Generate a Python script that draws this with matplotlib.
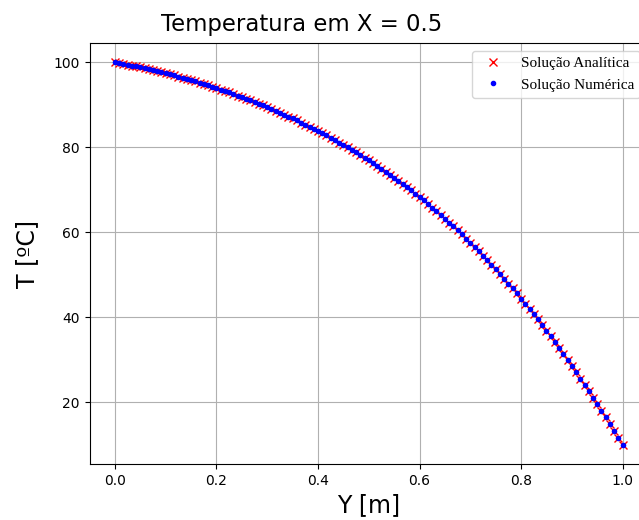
import numpy as np
import matplotlib
matplotlib.use("Agg")
import matplotlib.pyplot as plt

# Y positions (uniform grid, 121 nodes)
Y = np.linspace(0.0, 1.0, 121)

# Temperatures (ºC)
T_analitica = [
    100.00, 99.80, 99.60, 99.40, 99.20, 98.98, 98.77, 98.55, 98.33, 98.10, 97.87, 97.64,
    97.40, 97.14, 96.87, 96.59, 96.32, 96.03, 95.74, 95.45, 95.15, 94.85, 94.54, 94.22,
    93.90, 93.56, 93.22, 92.86, 92.51, 92.14, 91.77, 91.39, 91.01, 90.62, 90.22, 89.81,
    89.40, 88.98, 88.55, 88.11, 87.67, 87.21, 86.75, 86.28, 85.80, 85.32, 84.82, 84.31,
    83.80, 83.28, 82.75, 82.21, 81.66, 81.10, 80.54, 79.96, 79.37, 78.77, 78.16, 77.53,
    76.90, 76.25, 75.59, 74.92, 74.24, 73.54, 72.83, 72.11, 71.37, 70.63, 69.87, 69.09,
    68.30, 67.49, 66.66, 65.81, 64.96, 64.08, 63.19, 62.28, 61.36, 60.42, 59.47, 58.49,
    57.50, 56.51, 55.51, 54.48, 53.44, 52.38, 51.30, 50.20, 49.08, 47.94, 46.78, 45.60,
    44.40, 43.20, 41.98, 40.74, 39.48, 38.19, 36.88, 35.54, 34.18, 32.80, 31.39, 29.96,
    28.50, 27.06, 25.60, 24.13, 22.64, 21.12, 19.59, 18.04, 16.47, 14.89, 13.28, 11.65,
    10.00,
]
T_numerica = [
    100.00, 99.80, 99.60, 99.40, 99.20, 98.98, 98.77, 98.55, 98.33, 98.10, 97.87, 97.64,
    97.40, 97.14, 96.87, 96.59, 96.32, 96.03, 95.74, 95.45, 95.15, 94.85, 94.54, 94.22,
    93.90, 93.56, 93.22, 92.86, 92.51, 92.14, 91.77, 91.39, 91.01, 90.62, 90.22, 89.81,
    89.40, 88.98, 88.55, 88.11, 87.67, 87.21, 86.75, 86.28, 85.80, 85.32, 84.82, 84.31,
    83.80, 83.28, 82.75, 82.21, 81.66, 81.10, 80.54, 79.96, 79.37, 78.77, 78.16, 77.53,
    76.90, 76.25, 75.59, 74.92, 74.24, 73.54, 72.83, 72.11, 71.37, 70.63, 69.87, 69.09,
    68.30, 67.49, 66.66, 65.81, 64.96, 64.08, 63.19, 62.28, 61.36, 60.42, 59.47, 58.49,
    57.50, 56.51, 55.51, 54.48, 53.44, 52.38, 51.30, 50.20, 49.08, 47.94, 46.78, 45.60,
    44.40, 43.20, 41.98, 40.74, 39.48, 38.19, 36.88, 35.54, 34.18, 32.80, 31.39, 29.96,
    28.50, 27.06, 25.60, 24.13, 22.64, 21.12, 19.59, 18.04, 16.47, 14.89, 13.28, 11.65,
    10.00,
]

title = "Temperatura em X = 0.5"
xlabel = "Y [m]"
ylabel = "T [ºC]"
labels = ["Solução Analítica", "Solução Numérica"]

W, H = 639, 520
fig = plt.figure(figsize=(W / 100, H / 100), dpi=100)
ax = fig.add_axes([89.5 / W, 56 / H, 558.5 / W, 421 / H])

ax.plot(Y, T_analitica, "rx", label=labels[0])
ax.plot(Y, T_numerica, "b.", label=labels[1])

ax.grid(True)
ax.set_xlabel(xlabel, fontsize=17)
ax.set_ylabel(ylabel, fontsize=17, labelpad=10)
ax.set_xticks([0.0, 0.2, 0.4, 0.6, 0.8, 1.0])
ax.set_yticks([20, 40, 60, 80, 100])

fig.text(302 / W, 1 - 31 / H, title, ha="center", va="baseline", fontsize=16.4)

ax.legend(loc="upper right", prop={"family": "Liberation Serif", "size": 11})

fig.savefig("out.png", dpi=100)
